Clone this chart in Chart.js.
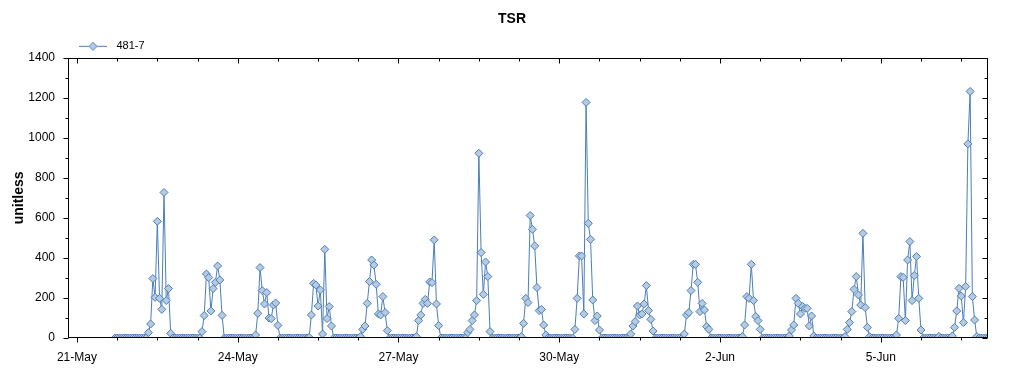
<!DOCTYPE html>
<html>
<head>
<meta charset="utf-8">
<script src="https://cdn.jsdelivr.net/npm/chart.js@4.4.1/dist/chart.umd.min.js"></script>
<style>
  body { margin: 0; background: #fff; }
</style>
</head>
<body>
<canvas id="myChart" width="1024" height="375"></canvas>
<script>
const seriesName = "481-7";
// hourly readings, first one at 21-May 17:00 (hour 17 counted from 21-May 00:00)
const firstHour = 17;
const tsr = [
  0, 0, 0, 0, 0, 0, 0, // 21-May 17h-23h
  0, 0, 0, 0, 0, 0, 0, 0, 27, 70, 297, 203, 583, 198, 143, 727, 187, 247, 23, 0, 0, 0, 0, 0, // 22-May
  0, 0, 0, 0, 0, 0, 0, 0, 32, 112, 320, 302, 135, 247, 278, 360, 290, 113, 0, 0, 0, 0, 0, 0, // 23-May
  0, 0, 0, 0, 0, 0, 0, 0, 15, 123, 352, 237, 170, 227, 100, 97, 165, 175, 63, 0, 0, 0, 0, 0, // 24-May
  0, 0, 0, 0, 0, 0, 0, 0, 3, 115, 273, 265, 160, 240, 20, 443, 97, 157, 60, 0, 0, 0, 0, 0, // 25-May
  0, 0, 0, 0, 0, 0, 0, 7, 43, 60, 173, 282, 390, 365, 268, 120, 115, 207, 127, 37, 0, 0, 0, 0, // 26-May
  0, 0, 0, 0, 0, 0, 0, 0, 7, 87, 115, 173, 193, 173, 280, 277, 490, 170, 62, 0, 0, 0, 0, 0, // 27-May
  0, 0, 0, 0, 0, 0, 0, 27, 43, 87, 115, 187, 923, 427, 218, 380, 307, 32, 0, 0, 0, 0, 0, 0, // 28-May
  0, 0, 0, 0, 0, 0, 0, 7, 73, 198, 177, 612, 543, 460, 252, 137, 143, 65, 15, 0, 0, 0, 0, 0, // 29-May
  0, 0, 0, 0, 0, 0, 0, 43, 198, 410, 410, 120, 1177, 573, 493, 190, 87, 110, 40, 0, 0, 0, 0, 0, // 30-May
  0, 0, 0, 0, 0, 0, 0, 0, 20, 60, 82, 160, 115, 120, 170, 262, 137, 93, 35, 0, 0, 0, 0, 0, // 31-May
  0, 0, 0, 0, 0, 0, 0, 0, 20, 115, 127, 237, 368, 368, 278, 132, 173, 140, 57, 43, 0, 0, 0, 0, // 1-Jun
  0, 0, 0, 0, 0, 0, 0, 0, 0, 0, 7, 65, 207, 198, 368, 187, 107, 87, 43, 0, 0, 0, 0, 0, // 2-Jun
  0, 0, 0, 0, 0, 0, 0, 10, 40, 65, 198, 173, 120, 157, 148, 148, 60, 110, 10, 0, 0, 0, 0, 0, // 3-Jun
  0, 0, 0, 0, 0, 0, 0, 0, 7, 43, 77, 132, 243, 307, 215, 165, 523, 152, 53, 7, 0, 0, 0, 0, // 4-Jun
  0, 0, 0, 0, 0, 0, 0, 15, 98, 307, 303, 87, 390, 482, 187, 312, 407, 198, 40, 0, 0, 0, 0, 0, // 5-Jun
  0, 0, 8, 0, 0, 0, 0, 0, 10, 53, 135, 248, 210, 77, 257, 970, 1232, 207, 90, 7, 0, 0, 0, 0, // 6-Jun
  0 // 7-Jun 0h
];
const xTickLabels = ["21-May", "24-May", "27-May", "30-May", "2-Jun", "5-Jun"];
const xTickStep = 18; // hours between small ticks, a label every 72
const yTickStep = 100;

Chart.defaults.font.family = "'Liberation Sans', Arial, sans-serif";
Chart.defaults.color = "#000";

// legend icon: short line with a diamond in the middle
const legendIcon = document.createElement("canvas");
legendIcon.width = 32;
legendIcon.height = 11;
const ic = legendIcon.getContext("2d");
ic.strokeStyle = "#4a7ebb";
ic.lineWidth = 1;
ic.beginPath();
ic.moveTo(0, 5.5);
ic.lineTo(28, 5.5);
ic.stroke();
ic.beginPath();
ic.moveTo(14, 1.5);
ic.lineTo(18, 5.5);
ic.lineTo(14, 9.5);
ic.lineTo(10, 5.5);
ic.closePath();
ic.fillStyle = "#b7cbe0";
ic.fill();
ic.stroke();

// box round the plot with small ticks, in on top/right, out on bottom/left
const frameTicks = {
  id: "frameTicks",
  afterDraw(chart) {
    const { ctx, chartArea: a, scales } = chart;
    const L = Math.round(a.left) + 0.5;
    const R = Math.round(a.right) - 0.5;
    const T = Math.round(a.top) + 0.5;
    const B = Math.round(a.bottom) - 0.5;
    ctx.save();
    ctx.strokeStyle = "#000";
    ctx.lineWidth = 1;
    ctx.strokeRect(L, T, R - L, B - T);
    ctx.beginPath();
    scales.x.ticks.forEach((t) => {
      const px = Math.round(scales.x.getPixelForValue(t.value)) + 0.5;
      const len = t.value % 72 === 0 ? 5 : 3;
      ctx.moveTo(px, B);
      ctx.lineTo(px, B + len);
      ctx.moveTo(px, T);
      ctx.lineTo(px, T + len);
    });
    scales.y.ticks.forEach((t) => {
      const py = Math.round(scales.y.getPixelForValue(t.value)) + 0.5;
      const len = t.value % 200 === 0 ? 5 : 3;
      ctx.moveTo(L - len, py);
      ctx.lineTo(L, py);
      ctx.moveTo(R - len, py);
      ctx.lineTo(R, py);
    });
    ctx.stroke();
    ctx.restore();
  },
};

// legend sits just above the plot, a bit in from the left edge
const legendShift = {
  id: "legendShift",
  afterLayout(chart) {
    chart.legend.left += 71;
    chart.legend.right += 71;
    chart.legend.top += 4;
    chart.legend.bottom += 4;
  },
};

const ctx = document.getElementById("myChart");
const chart = new Chart(ctx, {
  type: "line",
  data: {
    datasets: [
      {
        label: seriesName,
        data: tsr.map((v, i) => ({ x: firstHour + i, y: v })),
        borderColor: "#4a7ebb",
        borderWidth: 1,
        tension: 0,
        clip: 0,
        pointStyle: "rectRot",
        pointRadius: 4,
        pointBorderWidth: 1,
        pointBackgroundColor: "#b7cbe0",
        pointBorderColor: "#4a7ebb",
      },
    ],
  },
  options: {
    responsive: false,
    animation: false,
    layout: { padding: 0 },
    plugins: {
      title: {
        display: true,
        text: "TSR",
        font: { size: 14, weight: "bold" },
        padding: { top: 11, bottom: 1 },
      },
      legend: {
        display: true,
        align: "start",
        labels: {
          usePointStyle: true,
          pointStyle: legendIcon,
          pointStyleWidth: 32,
          boxHeight: 11,
          padding: 8,
          font: { size: 11 },
        },
      },
      tooltip: { enabled: false },
    },
    scales: {
      x: {
        type: "linear",
        min: -4,
        max: 408,
        grid: { display: false },
        border: { display: false },
        afterBuildTicks(scale) {
          scale.ticks = [];
          for (let v = 0; v <= 396; v += xTickStep) scale.ticks.push({ value: v });
        },
        ticks: {
          autoSkip: false,
          maxRotation: 0,
          padding: 4,
          font: { size: 12 },
          callback: (v) => (v % 72 === 0 ? xTickLabels[v / 72] : ""),
        },
        afterFit(scale) {
          scale.height = 37;
        },
      },
      y: {
        min: 0,
        max: 1400,
        grid: { display: false },
        border: { display: false },
        afterBuildTicks(scale) {
          scale.ticks = [];
          for (let v = 0; v <= 1400; v += yTickStep) scale.ticks.push({ value: v });
        },
        ticks: {
          autoSkip: false,
          padding: 5,
          font: { size: 12 },
          callback: (v) => (v % 200 === 0 ? v : ""),
        },
        title: {
          display: true,
          text: "unitless",
          font: { size: 14, weight: "bold" },
          padding: { top: 11, bottom: 0 },
        },
        afterFit(scale) {
          scale.width = 68;
        },
      },
      y2: {
        position: "right",
        grid: { display: false },
        border: { display: false },
        ticks: { display: false },
        afterFit(scale) {
          scale.width = 36;
        },
      },
    },
  },
  plugins: [frameTicks, legendShift],
});
</script>
</body>
</html>
